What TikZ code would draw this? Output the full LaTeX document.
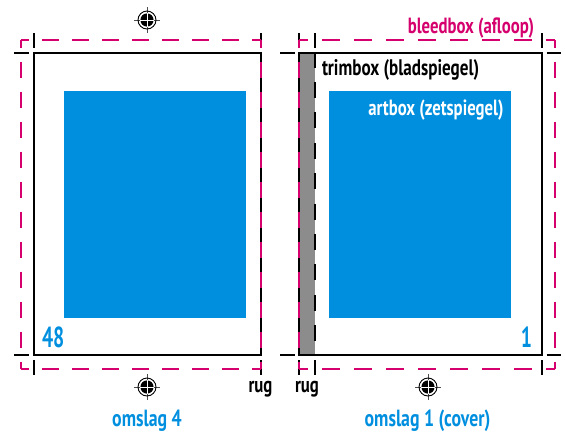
\documentclass[tikz,border=0pt]{standalone}
\usepackage{fontspec}
\setmainfont[FakeStretch=0.76]{PT Sans}
\newfontfamily\numfont[FakeStretch=0.68]{PT Sans}
\usetikzlibrary{positioning}
\definecolor{bleedcol}{HTML}{D5006D}
\definecolor{artcol}{HTML}{008FDF}
\definecolor{spinecol}{HTML}{8C8C8C}
\tikzset{
    regmark/.pic={
        \draw[line width=0.8pt,black!70] (-13,0) -- (13,0) (0,-13) -- (0,13);
        \draw[line width=0.9pt] (0,0) circle (9);
        \fill (0,0) circle (6.6);
        \draw[line width=0.7pt,white] (-6.6,0) -- (6.6,0) (0,-6.6) -- (0,6.6);
    }
}
\begin{document}
\begin{tikzpicture}[x=1pt,y=-1pt,line width=2pt,
                bleed h/.style={bleedcol,dash pattern=on 16.7pt off 13.3pt,dash phase=8.35pt},
                bleed w/.style={bleedcol,dash pattern=on 18pt off 14pt,dash phase=9pt},
                lbl/.style={inner sep=0pt,font=\fontsize{22}{22}\selectfont\bfseries},
                biglbl/.style={inner sep=0pt,artcol,font=\fontsize{23.4}{23.4}\selectfont\bfseries},
                numlbl/.style={inner sep=0pt,artcol,font=\fontsize{29}{29}\numfont\bfseries},
                page/.style={fill=artcol,draw=none}]
    \useasboundingbox (0,0) rectangle (566,437);
    % blue areas and spine
    \fill[page] (64,91) rectangle (246,318);
    \fill[page] (329,91) rectangle (511,318);
    \fill[spinecol] (299,53) rectangle (315,355);
    % trim lines
    \draw (33.5,53) rectangle (260.5,355);
    \draw (299,53) -- (542,53) -- (542,355) -- (299,355) -- cycle;
    \draw[dash pattern=on 16pt off 14.4pt,dash phase=1.4pt] (314.5,53) -- (314.5,355);
    % crop ticks
    \foreach \x in {33.5,260.5,299,314.5,542} {
        \draw (\x,33) -- (\x,48);
        \draw (\x,360) -- (\x,375);
    }
    \foreach \y in {53,355} {
        \draw (14,\y) -- (29,\y);
        \draw (280,\y) -- (295,\y);
        \draw (546.5,\y) -- (561,\y);
    }
    % bleed lines
    \draw[bleed h] (20.5,40) -- (260.5,40);
    \draw[bleed h] (20.5,368.5) -- (260.5,368.5);
    \draw[bleed w] (299,40) -- (555,40);
    \draw[bleed w] (299,368.5) -- (555,368.5);
    \foreach \x in {20.5,260.5,299,555}
        \draw[bleed h] (\x,40) -- (\x,368.5);
    % register marks
    \pic at (147,20) {regmark};
    \pic at (147,387) {regmark};
    \pic at (428,387) {regmark};
    % labels
    \node[lbl,bleedcol,anchor=base east] (bleedbox) at (535,33) {bleedbox (afloop)};
    \node[lbl,anchor=base west,font=\fontsize{22.5}{22.5}\selectfont\bfseries] (trimbox) at (321,75) {trimbox (bladspiegel)};
    \node[lbl,white,anchor=base east] (artbox) at (504.5,115) {artbox (zetspiegel)};
    \node[numlbl,anchor=base west] (num48) at (41,347.5) {48};
    \node[numlbl,anchor=base east] (num1) at (533,347.5) {1};
    \node[lbl,anchor=base] (rugleft) at (260.5,392) {rug};
    \node[lbl,anchor=base] (rugright) at (307,392) {rug};
    \node[biglbl,anchor=base] (omslagfour) at (147,426.5) {omslag 4};
    \node[biglbl,anchor=base] (omslagone) at (427.5,426.5) {omslag 1 (cover)};
\end{tikzpicture}
\end{document}
